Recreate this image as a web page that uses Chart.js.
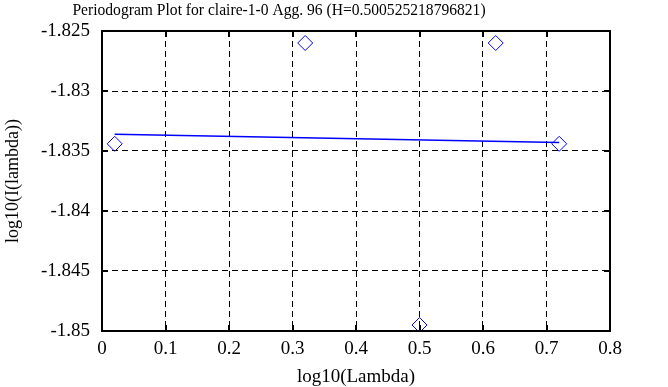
<!DOCTYPE html>
<html>
<head>
<meta charset="utf-8">
<script src="https://cdn.jsdelivr.net/npm/chart.js@4.4.0/dist/chart.umd.min.js"></script>
<style>
  html, body { margin: 0; padding: 0; background: #fff; }
  #wrap { width: 668px; height: 387px; }
</style>
</head>
<body>
<div id="wrap"><canvas id="grafico" width="668" height="387"></canvas></div>
<script>
// datos
const puntosX = [0.02, 0.32, 0.5, 0.62, 0.72];
const puntosY = [-1.8344, -1.8260, -1.8495, -1.8260, -1.8344];
const ajusteX = [0.02, 0.72];
const ajusteY = [-1.8336, -1.8343];
const ticksX = [0, 0.1, 0.2, 0.3, 0.4, 0.5, 0.6, 0.7, 0.8];
const ticksY = [-1.85, -1.845, -1.84, -1.835, -1.83, -1.825];
const titulo = "Periodogram Plot for claire-1-0 Agg. 96 (H=0.500525218796821)";

const fuente = "'Liberation Serif', 'DejaVu Serif', serif";

// titulo y marcas cortas en los ejes
const extras = {
  id: "extras",
  afterDraw(chart) {
    const ctx = chart.ctx;
    const a = chart.chartArea;
    const sx = chart.scales.x, sy = chart.scales.y;
    ctx.save();
    ctx.strokeStyle = "#000";
    ctx.lineWidth = 2;
    ctx.setLineDash([]);
    ctx.beginPath();
    ticksX.forEach((v) => {
      const px = Math.round(sx.getPixelForValue(v));
      ctx.moveTo(px, a.top); ctx.lineTo(px, a.top + 6);
      ctx.moveTo(px, a.bottom); ctx.lineTo(px, a.bottom - 6);
    });
    ticksY.forEach((v) => {
      const py = Math.round(sy.getPixelForValue(v));
      ctx.moveTo(a.left, py); ctx.lineTo(a.left + 6, py);
      ctx.moveTo(a.right, py); ctx.lineTo(a.right - 6, py);
    });
    ctx.stroke();
    ctx.strokeRect(a.left, a.top, a.right - a.left, a.bottom - a.top);
    // titulo un poco comprimido para que ocupe lo mismo que el original
    ctx.fillStyle = "#000";
    ctx.font = "17px " + fuente;
    ctx.textAlign = "center";
    ctx.textBaseline = "middle";
    ctx.translate(279, 11);
    ctx.scale(0.917, 1);
    ctx.fillText(titulo, 0, 0);
    ctx.restore();
  }
};

new Chart(document.getElementById("grafico"), {
  type: "scatter",
  data: {
    datasets: [
      {
        label: "ajuste",
        type: "line",
        data: ajusteX.map((x, i) => ({ x: x, y: ajusteY[i] })),
        borderColor: "#0000ff",
        borderWidth: 1.5,
        pointRadius: 0,
        fill: false,
      },
      {
        label: "periodograma",
        data: puntosX.map((x, i) => ({ x: x, y: puntosY[i] })),
        pointStyle: "rectRot",
        pointRadius: 7.5,
        pointBorderWidth: 1,
        pointBorderColor: "#0000ff",
        pointBackgroundColor: "rgba(0,0,0,0)",
      },
    ],
  },
  options: {
    responsive: false,
    animation: false,
    layout: { padding: { top: 31, right: 58, left: 0, bottom: 0 } },
    plugins: { legend: { display: false }, tooltip: { enabled: false } },
    scales: {
      x: {
        type: "linear",
        min: 0,
        max: 0.8,
        afterBuildTicks: (ax) => { ax.ticks = ticksX.map((v) => ({ value: v })); },
        afterFit: (ax) => { ax.height = 56; },
        grid: { color: "#000", lineWidth: 1, tickLength: 0, drawTicks: false },
        border: { display: false, dash: [6, 4] },
        ticks: {
          color: "#000",
          font: { family: fuente, size: 19, lineHeight: 1 },
          padding: 9,
          maxRotation: 0,
          callback: (v) => String(Math.round(v * 10) / 10),
        },
        title: {
          display: true,
          text: "log10(Lambda)",
          color: "#000",
          font: { family: fuente, size: 19, lineHeight: 1 },
          padding: { top: 2, bottom: 0 },
        },
      },
      y: {
        type: "linear",
        min: -1.85,
        max: -1.825,
        afterBuildTicks: (ax) => { ax.ticks = ticksY.map((v) => ({ value: v })); },
        afterFit: (ax) => { ax.width = 102; },
        grid: { color: "#000", lineWidth: 1, drawTicks: false },
        border: { display: false, dash: [6, 4] },
        ticks: {
          color: "#000",
          font: { family: fuente, size: 19 },
          padding: 12,
          callback: (v) => String(Math.round(v * 1000) / 1000),
        },
        title: {
          display: true,
          text: "log10(I(lambda))",
          color: "#000",
          font: { family: fuente, size: 18, lineHeight: 1 },
          padding: { top: 4, bottom: 4 },
        },
      },
    },
  },
  plugins: [extras],
});
</script>
</body>
</html>
